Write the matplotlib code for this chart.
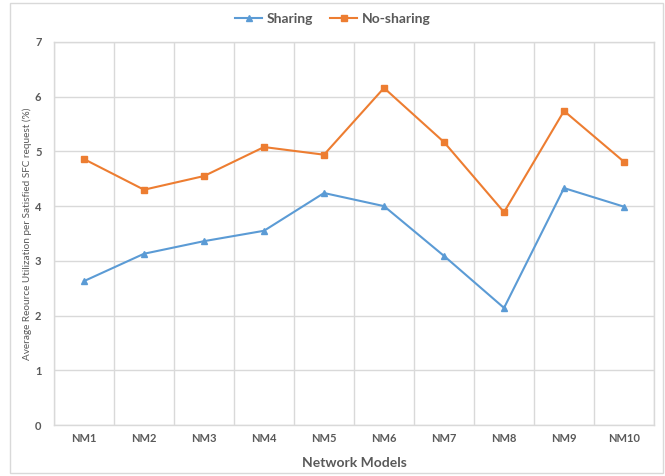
import matplotlib
matplotlib.use("Agg")
import matplotlib.pyplot as plt
from matplotlib.patches import Rectangle

plt.rcParams['font.family'] = ['Lato', 'DejaVu Sans']

categories = ["NM1", "NM2", "NM3", "NM4", "NM5", "NM6", "NM7", "NM8", "NM9", "NM10"]
sharing = [2.63, 3.13, 3.36, 3.55, 4.24, 4.00, 3.09, 2.14, 4.33, 3.99]
no_sharing = [4.86, 4.30, 4.55, 5.08, 4.94, 6.16, 5.17, 3.89, 5.74, 4.81]
y_ticks = [0, 1, 2, 3, 4, 5, 6, 7]

blue = "#5b9bd5"
orange = "#ed7d31"
grid = "#d9d9d9"
text = "#595959"

fig = plt.figure(figsize=(6.65, 4.76), dpi=100)
fig.patches.append(Rectangle((0.015, 0.006), 0.982, 0.988, transform=fig.transFigure,
                             fill=False, edgecolor="#d9d9d9", linewidth=1.0))

ax = fig.add_axes([0.0812, 0.1071, 0.9023, 0.8047])
x = list(range(len(categories)))
ax.plot(x, sharing, color=blue, marker="^", markersize=5, linewidth=1.5, label="Sharing")
ax.plot(x, no_sharing, color=orange, marker="s", markersize=5, linewidth=1.5, label="No-sharing")

ax.set_xlim(-0.5, len(categories) - 0.5)
ax.set_ylim(0, 7)
ax.set_yticks(y_ticks)
ax.set_xticks(x)
ax.set_xticklabels(categories)
ax.set_xticks([i + 0.5 for i in range(-1, len(categories))], minor=True)
ax.grid(True, which="major", axis="y", color=grid, linewidth=1.0)
ax.grid(True, which="minor", axis="x", color=grid, linewidth=1.0)
ax.set_axisbelow(True)
for s in ax.spines.values():
    s.set_color(grid)
    s.set_linewidth(1.0)
ax.tick_params(which="both", length=0)
ax.tick_params(axis="x", pad=6)
ax.tick_params(axis="y", pad=9)
for lab in ax.get_xticklabels() + ax.get_yticklabels():
    lab.set_fontsize(8)
    lab.set_fontweight("bold")
    lab.set_color(text)

ax.set_xlabel("Network Models", fontsize=10, fontweight="bold", color=text, labelpad=9)
ax.set_ylabel("Average Reource Utilization per Satisfied SFC request (%)", fontsize=7.2,
              color=text, labelpad=2)

fig.legend(loc="center", bbox_to_anchor=(0.5, 0.96), ncol=2, frameon=False,
           prop={"weight": "bold", "size": 10}, labelcolor=text,
           handlelength=2.0, columnspacing=1.2, handletextpad=0.3)

fig.savefig("out.png", dpi=100)
